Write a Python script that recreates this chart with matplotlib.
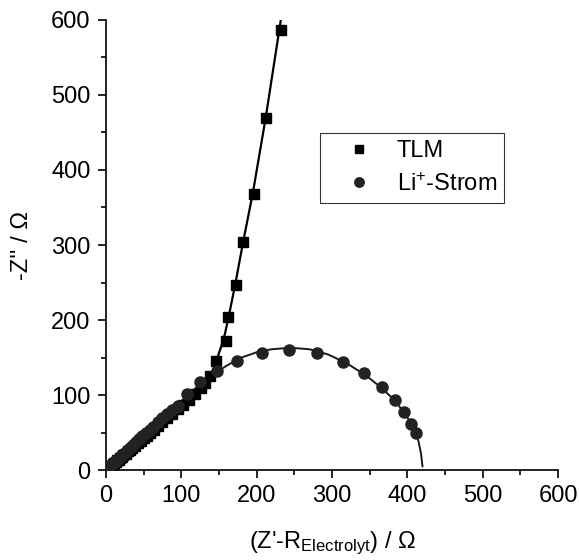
import matplotlib
matplotlib.use("Agg")
import matplotlib.pyplot as plt
from matplotlib.ticker import MultipleLocator

plt.rcParams['font.family'] = ['Liberation Sans', 'DejaVu Sans']
plt.rcParams['mathtext.fontset'] = 'custom'
plt.rcParams['mathtext.rm'] = 'Liberation Sans'
plt.rcParams['mathtext.it'] = 'Liberation Sans'

# TLM measured points
tlm_x = [3, 5, 7, 9, 11, 13, 15, 17, 19, 21, 23, 26, 29, 32, 35, 38, 42, 46, 50,
         54, 59, 64, 69, 75, 81, 88, 95, 102, 110, 118, 126, 132, 138,
         146, 159, 162, 172, 182, 196, 212, 232]
tlm_y = [2, 4, 6, 8, 9, 11, 13, 14, 16, 18, 20, 22, 25, 27, 30, 32, 36, 39, 43,
         46, 50, 54, 59, 64, 69, 75, 81, 87, 94, 101, 109, 116, 126,
         145, 172, 204, 247, 304, 368, 469, 587]

# TLM fit curve
tlm_fit_x = [0, 40, 80, 110, 125, 135, 142, 148, 153, 158, 165, 172, 182, 195, 212, 232]
tlm_fit_y = [0, 34, 68, 94, 108, 120, 133, 150, 165, 182, 215, 250, 304, 370, 470, 600]

# Li+-Strom measured points
li_x = [2, 4, 6, 8, 10, 12, 14, 16, 18, 20, 23, 26, 29, 32, 36, 40, 44, 48, 53,
        58, 63, 69, 75, 81, 87, 95, 107, 125, 147, 174, 207, 243, 280, 315,
        343, 366, 383, 395, 405, 411]
li_y = [2, 4, 6, 8, 9, 11, 13, 15, 17, 19, 21, 24, 27, 30, 33, 37, 41, 45, 49,
        54, 58, 64, 69, 75, 80, 86, 102, 117, 132, 146, 156, 160, 156, 144,
        129, 111, 93, 77, 62, 50]

# Li+-Strom fit curve
li_fit_x = [0, 40, 80, 100, 120, 140, 160, 180, 200, 220, 245, 270, 295, 320, 345,
            365, 383, 396, 405, 411, 415, 418, 420]
li_fit_y = [0, 37, 74, 92, 110, 126, 139, 150, 157, 161, 163, 161, 154, 142, 126,
            110, 93, 76, 62, 50, 37, 22, 5]

fig = plt.figure(figsize=(5.79, 5.60), dpi=100)
ax = fig.add_axes([0.183, 0.1607, 0.781, 0.8036])

ax.plot(tlm_fit_x, tlm_fit_y, '-', color='black', lw=1.6, zorder=2)
ax.plot(li_fit_x, li_fit_y, '-', color='#1a1a1a', lw=1.4, zorder=2)
ax.plot(tlm_x, tlm_y, 's', color='black', ms=7, ls='none', zorder=3, label='TLM')
ax.plot(li_x, li_y, 'o', color='#222222', ms=8, ls='none', zorder=3,
        label='Li$^{+}$-Strom')

ax.set_xlim(0, 600)
ax.set_ylim(0, 600)
ax.xaxis.set_major_locator(MultipleLocator(100))
ax.xaxis.set_minor_locator(MultipleLocator(50))
ax.yaxis.set_major_locator(MultipleLocator(100))
ax.yaxis.set_minor_locator(MultipleLocator(50))
for s in ['top', 'right']:
    ax.spines[s].set_visible(False)
for s in ['left', 'bottom']:
    ax.spines[s].set_linewidth(1.2)
ax.tick_params(which='major', direction='out', length=6, width=1.2, labelsize=17, pad=5)
ax.tick_params(which='minor', direction='out', length=3.5, width=1.2)

ax.set_xlabel("(Z'-R$_{\\mathrm{Electrolyt}}$) / \u03a9", fontsize=17, labelpad=16)
ax.set_ylabel("-Z'' / \u03a9", fontsize=17, labelpad=13)

leg = ax.legend(loc='upper right', bbox_to_anchor=(0.8805, 0.749), fontsize=17,
                frameon=True, fancybox=False, edgecolor='black', handlelength=2.7,
                handletextpad=0.25, borderpad=0.3, labelspacing=0.45, markerscale=0.85,
                borderaxespad=0)
leg.get_frame().set_linewidth(0.8)

fig.savefig('out.png', dpi=100)
